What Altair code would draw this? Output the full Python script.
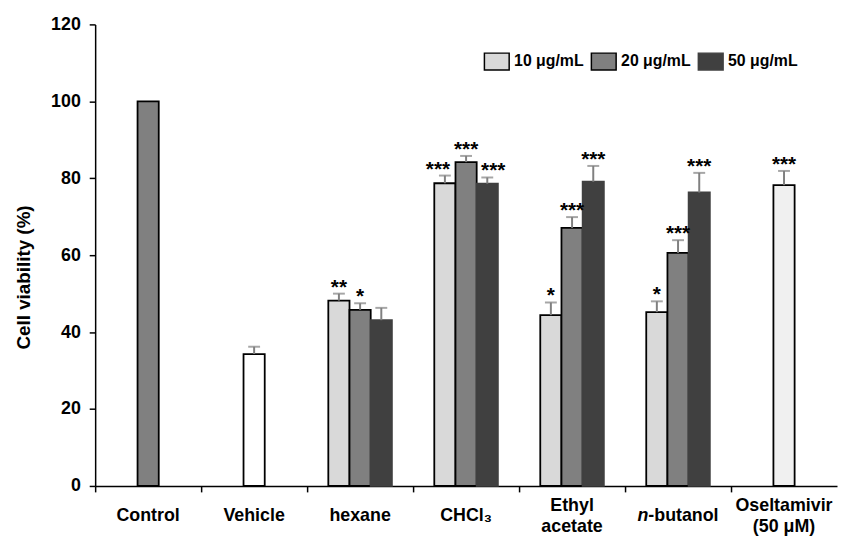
import altair as alt
import pandas as pd

FONT = "Liberation Sans"

categories = ["Control", "Vehicle", "hexane", "CHCl₃", "Ethyl\nacetate",
              "n-butanol", "Oseltamivir\n(50 μM)"]
concentrations = ["10 μg/mL", "20 μg/mL", "50 μg/mL"]
other_series = ["Vehicle", "Oseltamivir"]
series_colors = ["#d9d9d9", "#808080", "#404040", "#ffffff", "#f0f0f0"]

bar_group = ["Control", "Vehicle",
             "hexane", "hexane", "hexane",
             "CHCl₃", "CHCl₃", "CHCl₃",
             "Ethyl\nacetate", "Ethyl\nacetate", "Ethyl\nacetate",
             "n-butanol", "n-butanol", "n-butanol",
             "Oseltamivir\n(50 μM)"]
bar_series = ["20 μg/mL", "Vehicle",
              "10 μg/mL", "20 μg/mL", "50 μg/mL",
              "10 μg/mL", "20 μg/mL", "50 μg/mL",
              "10 μg/mL", "20 μg/mL", "50 μg/mL",
              "10 μg/mL", "20 μg/mL", "50 μg/mL",
              "Oseltamivir"]
values = [100, 34.3, 48.2, 45.8, 43.1, 78.7, 84.2, 78.6,
          44.4, 67.1, 79.1, 45.2, 60.6, 76.3, 78.2]
errors = [0, 1.9, 1.8, 1.7, 3.2, 2.0, 1.6, 1.6,
          3.3, 2.8, 4.1, 2.8, 3.3, 5.1, 3.7]
stars = ["", "", "**", "*", "", "***", "***", "***",
         "*", "***", "***", "*", "***", "***", "***"]

df = pd.DataFrame({
    "group": bar_group,
    "series": bar_series,
    "slot": [s if s in concentrations else concentrations[1] for s in bar_series],
    "value": values,
    "err": errors,
    "stars": stars,
})
df["top"] = df["value"] + df["err"]
cat_df = pd.DataFrame({"group": categories})

x_scale = alt.Scale(domain=categories, paddingInner=0, paddingOuter=0)
off_scale = alt.Scale(domain=concentrations, paddingInner=0, paddingOuter=1)

label_kw = dict(labelAngle=0, labelFont=FONT, labelFontSize=18, labelFontWeight="bold",
                labelColor="black", labelBaseline="middle", ticks=False, orient="bottom",
                labelOverlap=False)

# the italic "n" of "n-butanol" and the rest are drawn by two separate axes
ital_name = "n-butanol"
main_expr = ("datum.label == '%s' ? '' : (indexof(datum.label, '\\n') < 0 ? datum.label : '')"
             % ital_name)
ital_expr = "datum.label == '%s' ? 'n' : ''" % ital_name
rest_expr = "datum.label == '%s' ? '-butanol' : ''" % ital_name

x_main = alt.X("group:N", sort=categories, scale=x_scale, title=None,
               axis=alt.Axis(domain=True, domainColor="black", domainWidth=1.5,
                             labelPadding=30, labelExpr=main_expr, **label_kw))
x_plain = alt.X("group:N", sort=categories, scale=x_scale, axis=None)
xoff = alt.XOffset("slot:N", scale=off_scale)

y_enc = alt.Y("value:Q", scale=alt.Scale(domain=[0, 120]),
              axis=alt.Axis(values=[0, 20, 40, 60, 80, 100, 120], grid=False,
                            title="Cell viability (%)", domainColor="black", domainWidth=1.5,
                            tickColor="black", tickWidth=1.5, tickSize=6,
                            labelFont=FONT, labelFontSize=18, labelFontWeight="bold",
                            labelColor="black", labelPadding=9,
                            titleFont=FONT, titleFontSize=19, titleFontWeight="bold",
                            titleColor="black", titleX=-72, titleY=255,
                            titleBaseline="middle", titleAlign="center", titleAngle=-90))

bars = alt.Chart(df).mark_bar(strokeWidth=1.8).encode(
    x=x_main, xOffset=xoff,
    y=y_enc,
    color=alt.Color("series:N",
                    scale=alt.Scale(domain=concentrations + other_series, range=series_colors),
                    legend=alt.Legend(values=concentrations, title=None, orient="none",
                                      legendX=392, legendY=24, direction="horizontal",
                                      symbolType="M-1,-0.68H1V0.68H-1Z", symbolSize=625,
                                      symbolStrokeColor="black", symbolStrokeWidth=1.5,
                                      symbolOpacity=1,
                                      labelFont=FONT, labelFontSize=16, labelFontWeight="bold",
                                      labelColor="black", labelOffset=4, columnPadding=4)),
    stroke=alt.Stroke("series:N",
                      scale=alt.Scale(domain=concentrations + other_series,
                                      range=["black", "black", "#404040", "black", "black"]),
                      legend=None),
)

base = alt.Chart(df).encode(x=x_plain, xOffset=xoff)

err_base = base.transform_filter("datum.err > 0")
rules = err_base.mark_rule(color="#808080", strokeWidth=2).encode(y="value:Q", y2="top:Q")
caps = err_base.mark_tick(color="#808080", thickness=2, size=12, orient="horizontal").encode(y="top:Q")

star_base = base.transform_filter("datum.stars != ''")
star_kw = dict(font=FONT, fontSize=21, fontWeight="bold", baseline="alphabetic", color="black")
is_chcl_side = "datum.group == 'CHCl₃' && datum.slot != '20 μg/mL'"
stars_main = star_base.transform_filter("!(" + is_chcl_side + ")").mark_text(dy=0, **star_kw).encode(
    y="top:Q", text="stars:N")
stars_left = star_base.transform_filter(
    "datum.group == 'CHCl₃' && datum.slot == '10 μg/mL'").mark_text(dy=0, dx=-7, **star_kw).encode(
    y="top:Q", text="stars:N")
stars_right = star_base.transform_filter(
    "datum.group == 'CHCl₃' && datum.slot == '50 μg/mL'").mark_text(dy=0, dx=6, **star_kw).encode(
    y="top:Q", text="stars:N")

def label_layer(expr, padding, **extra):
    return alt.Chart(cat_df).mark_point(opacity=0).encode(
        x=alt.X("group:N", sort=categories, scale=x_scale, title=None,
                axis=alt.Axis(domain=False, labelPadding=padding, labelExpr=expr,
                              **label_kw, **extra)))

line1 = label_layer("indexof(datum.label, '\\n') >= 0 ? split(datum.label, '\\n')[0] : ''", 20)
line2 = label_layer("indexof(datum.label, '\\n') >= 0 ? split(datum.label, '\\n')[1] : ''", 41)
ital = label_layer(ital_expr, 30, labelFontStyle="italic", labelAlign="right", labelOffset=-30)
rest = label_layer(rest_expr, 30, labelAlign="left", labelOffset=-30)

sep = alt.Chart(cat_df).mark_point(opacity=0).encode(
    x=alt.X("group:N", sort=categories, scale=x_scale, title=None,
            axis=alt.Axis(bandPosition=0, labels=False, domain=False, ticks=True, orient="bottom",
                          tickSize=6, tickColor="black", tickWidth=1.5)))

chart = alt.layer(bars, rules, caps, stars_main, stars_left, stars_right,
                  line1, line2, ital, rest, sep).resolve_axis(
    x="independent"
).properties(
    width=749, height=466,
    padding={"left": 88, "top": 14, "right": 1, "bottom": 51},
    autosize=alt.AutoSizeParams(type="none"),
).configure_view(stroke=None)

chart.save("out.html", embed_options={"renderer": "svg", "actions": False})
